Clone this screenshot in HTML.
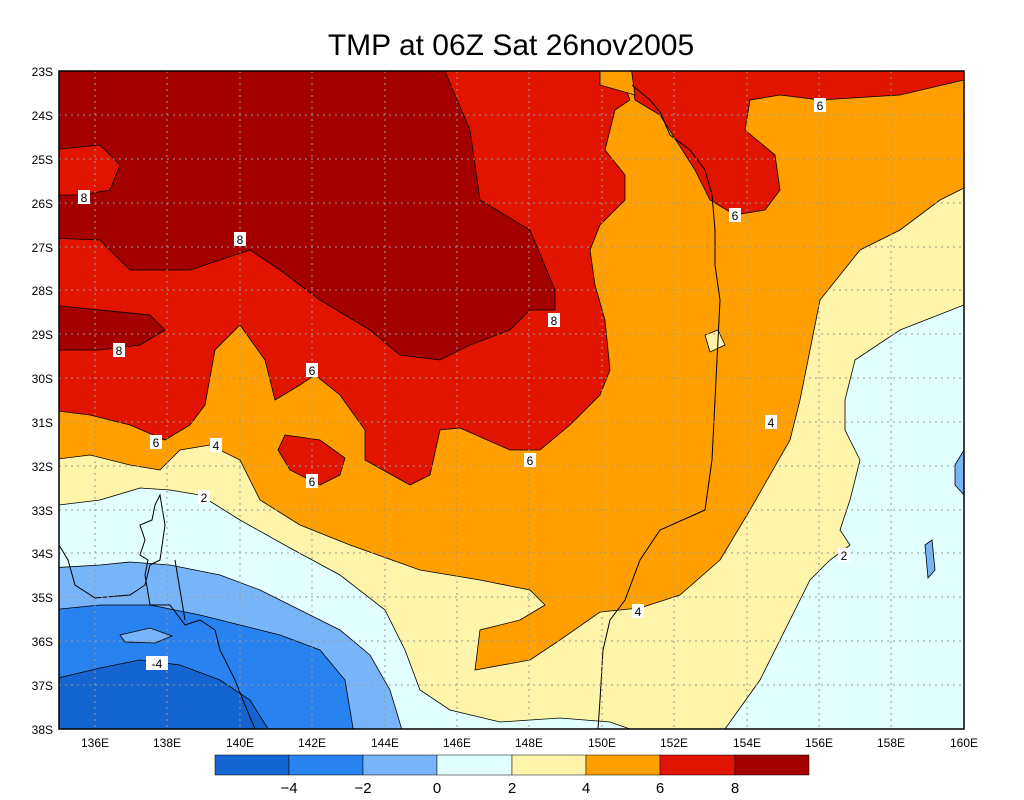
<!DOCTYPE html>
<html><head><meta charset="utf-8"><style>
body{margin:0;background:#fff;width:1024px;height:800px;overflow:hidden}
svg{display:block;font-family:"Liberation Sans",sans-serif}
</style></head><body>
<svg width="1024" height="800" viewBox="0 0 1024 800">
<text x="511" y="55" font-size="30" text-anchor="middle" fill="#000">TMP at 06Z Sat 26nov2005</text>
<defs><clipPath id="c"><rect x="59" y="71" width="905" height="658"/></clipPath></defs>
<g clip-path="url(#c)" stroke="#000" stroke-width="0.8">
<rect x="59" y="71" width="905" height="658" fill="#e1ffff" stroke="none"/>
<polygon fill="#fff5aa" points="59,505 100,500 140,488 170,490 200,495 240,520 290,548 340,575 385,610 405,650 420,690 450,710 500,722 560,718 610,722 630,729 725,729 760,680 800,600 810,580 830,560 850,545 840,530 850,500 860,460 845,430 845,400 855,360 900,330 964,305 964,60 50,60 50,505"/>
<polygon fill="#ffa000" points="50,460 90,455 130,465 160,470 180,450 210,445 240,460 260,500 300,525 350,545 420,570 480,580 530,590 545,605 520,620 480,630 475,670 530,660 560,640 600,612 640,608 680,595 720,560 750,510 790,440 800,400 810,350 820,300 860,250 900,230 940,200 964,188 964,60 50,60"/>
<polygon fill="#fff5aa" points="705,335 718,330 725,345 710,352"/>
<polygon fill="#e11400" points="50,238 50,410 90,415 130,425 165,440 190,425 205,405 215,350 240,325 265,360 275,400 300,385 315,375 340,395 365,430 365,460 410,485 430,475 440,430 460,428 510,450 540,450 570,425 600,395 610,370 605,320 595,285 590,250 600,225 625,200 625,175 605,150 615,110 630,100 615,60 50,60"/>
<polygon fill="#e11400" points="630,60 964,60 964,80 900,95 820,100 780,95 750,100 745,130 775,155 780,190 765,210 735,215 710,200 695,170 660,115 635,100"/>
<polygon fill="#ffa000" points="600,60 630,60 635,95 600,85"/>
<polygon fill="#e11400" points="285,435 320,440 345,458 340,475 320,485 290,470 278,450"/>
<polygon fill="#a50000" points="50,60 440,60 470,130 480,200 530,230 555,290 555,310 530,310 510,330 470,345 440,360 400,355 370,330 320,300 280,270 250,250 220,260 190,270 130,270 100,240 50,238"/>
<polygon fill="#e11400" points="50,150 100,145 120,165 110,190 80,195 50,195"/>
<polygon fill="#a50000" points="50,305 150,315 165,330 140,345 100,350 50,350"/>
<polygon fill="#78b4f8" points="50,568 100,565 130,562 170,565 220,575 260,590 300,610 340,630 370,655 390,690 405,740 50,740"/>
<polygon fill="#2882f0" points="50,610 100,605 150,605 200,615 240,625 280,635 320,650 345,680 355,740 50,740"/>
<polygon fill="#78b4f8" points="120,635 150,628 172,636 155,643 125,642"/>
<polygon fill="#1464d2" points="50,680 100,668 140,660 180,665 220,680 250,700 275,740 50,740"/>
<polygon fill="#78b4f8" points="955,465 964,450 964,495 955,485"/>
<polygon fill="#78b4f8" points="925,545 932,540 935,570 928,578"/>
<g fill="none" stroke-width="1">
<polyline points="632,85 650,100 660,112 670,135 690,150 705,170 712,195 715,230 715,265 720,300 718,340 715,400 712,460 705,510 660,530 640,560 625,600 610,620 603,650 600,700 598,729"/>
<polyline points="59,545 68,560 75,585 95,598 130,595 145,585 150,565 160,560 165,525 160,495 155,505 152,520 140,525 145,540 140,555 148,560 145,575 150,605 170,605 185,625 200,620 215,630 220,650 235,680 245,705 255,729"/>
<polyline points="175,560 180,590 185,620"/>
</g>
</g>
<g stroke="#999" stroke-width="1" stroke-dasharray="2,4">
<line x1="95" y1="71" x2="95" y2="729"/><line x1="167" y1="71" x2="167" y2="729"/><line x1="240" y1="71" x2="240" y2="729"/><line x1="312" y1="71" x2="312" y2="729"/><line x1="385" y1="71" x2="385" y2="729"/><line x1="457" y1="71" x2="457" y2="729"/><line x1="529" y1="71" x2="529" y2="729"/><line x1="602" y1="71" x2="602" y2="729"/><line x1="674" y1="71" x2="674" y2="729"/><line x1="747" y1="71" x2="747" y2="729"/><line x1="819" y1="71" x2="819" y2="729"/><line x1="891" y1="71" x2="891" y2="729"/>
<line x1="59" y1="115" x2="964" y2="115"/><line x1="59" y1="159" x2="964" y2="159"/><line x1="59" y1="203" x2="964" y2="203"/><line x1="59" y1="247" x2="964" y2="247"/><line x1="59" y1="290" x2="964" y2="290"/><line x1="59" y1="334" x2="964" y2="334"/><line x1="59" y1="378" x2="964" y2="378"/><line x1="59" y1="422" x2="964" y2="422"/><line x1="59" y1="466" x2="964" y2="466"/><line x1="59" y1="510" x2="964" y2="510"/><line x1="59" y1="553" x2="964" y2="553"/><line x1="59" y1="597" x2="964" y2="597"/><line x1="59" y1="641" x2="964" y2="641"/><line x1="59" y1="685" x2="964" y2="685"/>
</g>
<rect x="59" y="71" width="905" height="658" fill="none" stroke="#000" stroke-width="1.5"/>
<g font-size="12" text-anchor="middle">
<g fill="#fff"><rect x="78" y="190" width="12" height="14"/><rect x="234" y="232" width="12" height="14"/><rect x="113" y="343" width="12" height="14"/><rect x="548" y="313" width="12" height="14"/><rect x="306" y="363" width="12" height="14"/><rect x="814" y="98" width="12" height="14"/><rect x="729" y="208" width="12" height="14"/><rect x="150" y="435" width="12" height="14"/><rect x="210" y="438" width="12" height="14"/><rect x="306" y="474" width="12" height="14"/><rect x="524" y="453" width="12" height="14"/><rect x="765" y="415" width="12" height="14"/><rect x="198" y="490" width="12" height="14"/><rect x="632" y="604" width="12" height="14"/><rect x="838" y="548" width="12" height="14"/><rect x="146" y="656" width="22" height="14"/></g>
<text x="84" y="202">8</text><text x="240" y="244">8</text><text x="119" y="355">8</text><text x="554" y="325">8</text><text x="312" y="375">6</text><text x="820" y="110">6</text><text x="735" y="220">6</text><text x="156" y="447">6</text><text x="216" y="450">4</text><text x="312" y="486">6</text><text x="530" y="465">6</text><text x="771" y="427">4</text><text x="204" y="502">2</text><text x="638" y="616">4</text><text x="844" y="560">2</text><text x="157" y="668">-4</text>
</g>
<g font-size="12" text-anchor="end">
<text x="53" y="76">23S</text><text x="53" y="120">24S</text><text x="53" y="164">25S</text><text x="53" y="208">26S</text><text x="53" y="252">27S</text><text x="53" y="295">28S</text><text x="53" y="339">29S</text><text x="53" y="383">30S</text><text x="53" y="427">31S</text><text x="53" y="471">32S</text><text x="53" y="515">33S</text><text x="53" y="558">34S</text><text x="53" y="602">35S</text><text x="53" y="646">36S</text><text x="53" y="690">37S</text><text x="53" y="734">38S</text>
</g>
<g font-size="12" text-anchor="middle">
<text x="95" y="747">136E</text><text x="167" y="747">138E</text><text x="240" y="747">140E</text><text x="312" y="747">142E</text><text x="385" y="747">144E</text><text x="457" y="747">146E</text><text x="529" y="747">148E</text><text x="602" y="747">150E</text><text x="674" y="747">152E</text><text x="747" y="747">154E</text><text x="819" y="747">156E</text><text x="891" y="747">158E</text><text x="964" y="747">160E</text>
</g>
<g stroke="#000" stroke-width="0.5">
<rect x="215" y="755" width="74" height="20" fill="#1464d2"/><rect x="289" y="755" width="74" height="20" fill="#2882f0"/><rect x="363" y="755" width="74" height="20" fill="#78b4f8"/><rect x="437" y="755" width="75" height="20" fill="#e1ffff"/><rect x="512" y="755" width="74" height="20" fill="#fff5aa"/><rect x="586" y="755" width="74" height="20" fill="#ffa000"/><rect x="660" y="755" width="75" height="20" fill="#e11400"/><rect x="735" y="755" width="74" height="20" fill="#a50000"/>
</g>
<g font-size="15" text-anchor="middle"><text x="289" y="793">−4</text><text x="363" y="793">−2</text><text x="437" y="793">0</text><text x="512" y="793">2</text><text x="586" y="793">4</text><text x="660" y="793">6</text><text x="735" y="793">8</text></g>
</svg>
</body></html>
